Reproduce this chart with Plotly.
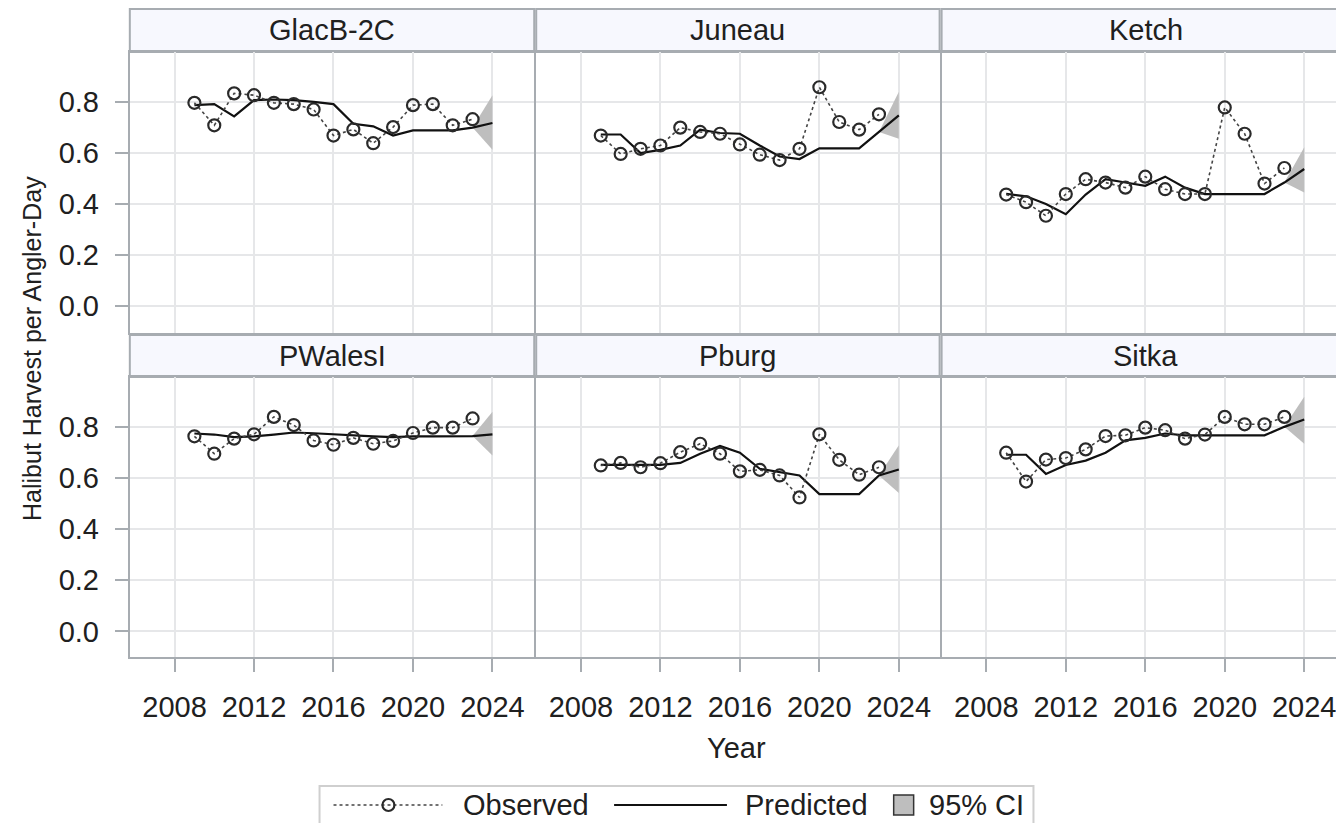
import plotly.graph_objects as go

W, H = 1344, 823

regions = ["GlacB-2C", "Juneau", "Ketch", "PWalesI", "Pburg", "Sitka"]
obs_years = list(range(2009, 2024))
pred_years = list(range(2009, 2025))
x_ticks = [2008, 2012, 2016, 2020, 2024]
y_ticks = [0.0, 0.2, 0.4, 0.6, 0.8]
y_tick_labels = ["0.0", "0.2", "0.4", "0.6", "0.8"]

obs_glacb = [0.796, 0.708, 0.833, 0.826, 0.796, 0.791, 0.770, 0.668, 0.692, 0.638, 0.701, 0.787, 0.791, 0.708, 0.732]
pred_glacb = [0.787, 0.791, 0.743, 0.807, 0.809, 0.807, 0.800, 0.791, 0.714, 0.704, 0.668, 0.688, 0.688, 0.688, 0.699, 0.717]
obs_juneau = [0.668, 0.596, 0.616, 0.629, 0.699, 0.682, 0.675, 0.633, 0.593, 0.572, 0.616, 0.857, 0.721, 0.691, 0.751]
pred_juneau = [0.672, 0.672, 0.599, 0.612, 0.629, 0.691, 0.678, 0.675, 0.629, 0.586, 0.576, 0.618, 0.618, 0.618, 0.682, 0.747]
obs_ketch = [0.437, 0.407, 0.354, 0.439, 0.497, 0.484, 0.464, 0.507, 0.458, 0.439, 0.439, 0.778, 0.675, 0.480, 0.541]
pred_ketch = [0.440, 0.430, 0.400, 0.360, 0.437, 0.497, 0.484, 0.471, 0.507, 0.464, 0.439, 0.439, 0.439, 0.439, 0.484, 0.537]
obs_pwales = [0.763, 0.695, 0.754, 0.771, 0.839, 0.807, 0.747, 0.730, 0.757, 0.734, 0.745, 0.776, 0.797, 0.797, 0.833]
pred_pwales = [0.774, 0.770, 0.760, 0.763, 0.770, 0.778, 0.775, 0.770, 0.768, 0.763, 0.760, 0.763, 0.763, 0.763, 0.764, 0.771]
obs_pburg = [0.649, 0.659, 0.642, 0.658, 0.701, 0.734, 0.695, 0.626, 0.632, 0.610, 0.524, 0.771, 0.671, 0.613, 0.642]
pred_pburg = [0.651, 0.651, 0.651, 0.651, 0.659, 0.695, 0.725, 0.699, 0.636, 0.622, 0.610, 0.537, 0.537, 0.537, 0.610, 0.633]
obs_sitka = [0.699, 0.586, 0.672, 0.678, 0.712, 0.764, 0.767, 0.797, 0.787, 0.754, 0.770, 0.839, 0.810, 0.810, 0.839]
pred_sitka = [0.691, 0.691, 0.616, 0.651, 0.668, 0.699, 0.747, 0.757, 0.774, 0.767, 0.767, 0.767, 0.767, 0.767, 0.800, 0.829]

ci_lower_2024 = [0.612, 0.655, 0.445, 0.688, 0.541, 0.734]
ci_upper_2024 = [0.826, 0.839, 0.622, 0.859, 0.728, 0.918]

observed = [obs_glacb, obs_juneau, obs_ketch, obs_pwales, obs_pburg, obs_sitka]
predicted = [pred_glacb, pred_juneau, pred_ketch, pred_pwales, pred_pburg, pred_sitka]

legend_labels = ["Observed", "Predicted", "95% CI"]

FONT = "Liberation Sans, Arial, sans-serif"
TXT = "#202020"
BORDER = "#A7ACB1"
GRID = "#E6E7E9"
CI_FILL = "#BEBEBE"

# page body margin offset (screen px -> figure px)
OFF = 8


def px(X):
    return (X - OFF) / W


def py(Y):
    return 1 - (Y - OFF) / H


# geometry in screen pixels
col_px = [(130, 535), (537, 941), (943, 1352)]
row_px = [(52, 333), (377, 657)]
strip_px = [(9, 52), (335, 377)]
x_left = 2005.75
px_per_year = 19.9
y_ranges = [(-0.105, 0.995), (-0.1, 0.995)]

fig = go.Figure()
layout = {}
shapes = []
annotations = []

for i, reg in enumerate(regions):
    r, c = divmod(i, 3)
    idx = i + 1
    xa = "x" if idx == 1 else f"x{idx}"
    ya = "y" if idx == 1 else f"y{idx}"
    x0p, x1p = col_px[c]
    t, b = row_px[r]
    xr = [x_left, x_left + (x1p - x0p) / px_per_year]
    layout["xaxis" if idx == 1 else f"xaxis{idx}"] = dict(
        domain=[px(x0p), min(px(x1p), 1.0)], anchor=ya, range=xr,
        tickvals=x_ticks, ticktext=[str(v) for v in x_ticks],
        showticklabels=(r == 1), ticks="outside" if r == 1 else "", ticklen=13, tickwidth=2, tickcolor=BORDER,
        showgrid=True, gridcolor=GRID, gridwidth=2, zeroline=False,
        showline=True, linecolor=BORDER, linewidth=2, mirror=True,
        tickfont=dict(family=FONT, size=29, color=TXT), ticklabelstandoff=10,
    )
    layout["yaxis" if idx == 1 else f"yaxis{idx}"] = dict(
        domain=[py(b), py(t)], anchor=xa, range=list(y_ranges[r]),
        tickvals=y_ticks, ticktext=y_tick_labels,
        showticklabels=(c == 0), ticks="outside" if c == 0 else "", ticklen=13, tickwidth=2, tickcolor=BORDER,
        showgrid=True, gridcolor=GRID, gridwidth=2, zeroline=False,
        showline=True, linecolor=BORDER, linewidth=2, mirror=True,
        tickfont=dict(family=FONT, size=29, color=TXT), ticklabelstandoff=10,
    )

    obs = observed[i]
    pred = predicted[i]
    ci_x = [pred_years[-2], pred_years[-1], pred_years[-1], pred_years[-2]]
    ci_y = [pred[-2], ci_upper_2024[i], ci_lower_2024[i], pred[-2]]
    fig.add_trace(go.Scatter(
        x=ci_x, y=ci_y, xaxis=xa, yaxis=ya, mode="lines", fill="toself",
        fillcolor=CI_FILL, line=dict(width=0, color=CI_FILL),
        name="95% CI", showlegend=False, hoverinfo="skip",
    ))
    fig.add_trace(go.Scatter(
        x=pred_years, y=pred, xaxis=xa, yaxis=ya, mode="lines",
        line=dict(color="#111111", width=2.2), name="Predicted", showlegend=False,
    ))
    fig.add_trace(go.Scatter(
        x=obs_years, y=obs, xaxis=xa, yaxis=ya, mode="lines+markers",
        line=dict(color="#444444", width=1.6, dash="dot"),
        marker=dict(symbol="circle-open", size=12, color="#2a2a2a", line=dict(width=2.2, color="#2a2a2a")),
        name="Observed", showlegend=False,
    ))

    st, sb = strip_px[r]
    shapes.append(dict(type="rect", xref="paper", yref="paper",
                       x0=px(x0p), x1=min(px(x1p), 1.0) + (0.01 if c == 2 else 0), y0=py(sb), y1=py(st),
                       fillcolor="#F7F8FE", line=dict(color=BORDER, width=2), layer="below"))
    annotations.append(dict(text=reg, xref="paper", yref="paper",
                            x=px((x0p + min(x1p, 1344)) / 2 if c < 2 else (x0p + 1352) / 2), y=py((st + sb) / 2),
                            showarrow=False, xanchor="center", yanchor="middle",
                            font=dict(family=FONT, size=29, color=TXT)))

# axis titles
annotations.append(dict(text="Year", xref="paper", yref="paper", x=px(738), y=py(748),
                        showarrow=False, xanchor="center", yanchor="middle",
                        font=dict(family=FONT, size=29, color=TXT)))
annotations.append(dict(text="Halibut Harvest per Angler-Day", xref="paper", yref="paper",
                        x=px(32), y=py(348), textangle=-90,
                        showarrow=False, xanchor="center", yanchor="middle",
                        font=dict(family=FONT, size=25, color=TXT)))

# legend (drawn as decorations)
LY = 805
shapes.append(dict(type="rect", xref="paper", yref="paper", x0=px(320), x1=px(1035), y0=py(840), y1=py(786),
                   line=dict(color="#CFCFCF", width=2), fillcolor="white"))
shapes.append(dict(type="line", xref="paper", yref="paper", x0=px(334), x1=px(443), y0=py(LY), y1=py(LY),
                   line=dict(color="#444444", width=1.6, dash="dot")))
shapes.append(dict(type="circle", xref="paper", yref="paper", x0=px(383), x1=px(395), y0=py(LY + 6), y1=py(LY - 6),
                   line=dict(color="#2a2a2a", width=2.2), fillcolor="rgba(0,0,0,0)"))
shapes.append(dict(type="line", xref="paper", yref="paper", x0=px(615), x1=px(728), y0=py(LY), y1=py(LY),
                   line=dict(color="#111111", width=2.2)))
shapes.append(dict(type="rect", xref="paper", yref="paper", x0=px(895), x1=px(915), y0=py(LY + 10), y1=py(LY - 10),
                   line=dict(color="#333333", width=1.5), fillcolor=CI_FILL))
for lbl, lx in zip(legend_labels, [462, 744, 928]):
    annotations.append(dict(text=lbl, xref="paper", yref="paper", x=px(lx), y=py(LY),
                            showarrow=False, xanchor="left", yanchor="middle",
                            font=dict(family=FONT, size=29, color=TXT)))

fig.update_layout(
    **layout,
    width=W, height=H,
    margin=dict(l=0, r=0, t=0, b=0),
    paper_bgcolor="white", plot_bgcolor="white",
    shapes=shapes, annotations=annotations,
    showlegend=False,
)

fig.write_html("out.html")
